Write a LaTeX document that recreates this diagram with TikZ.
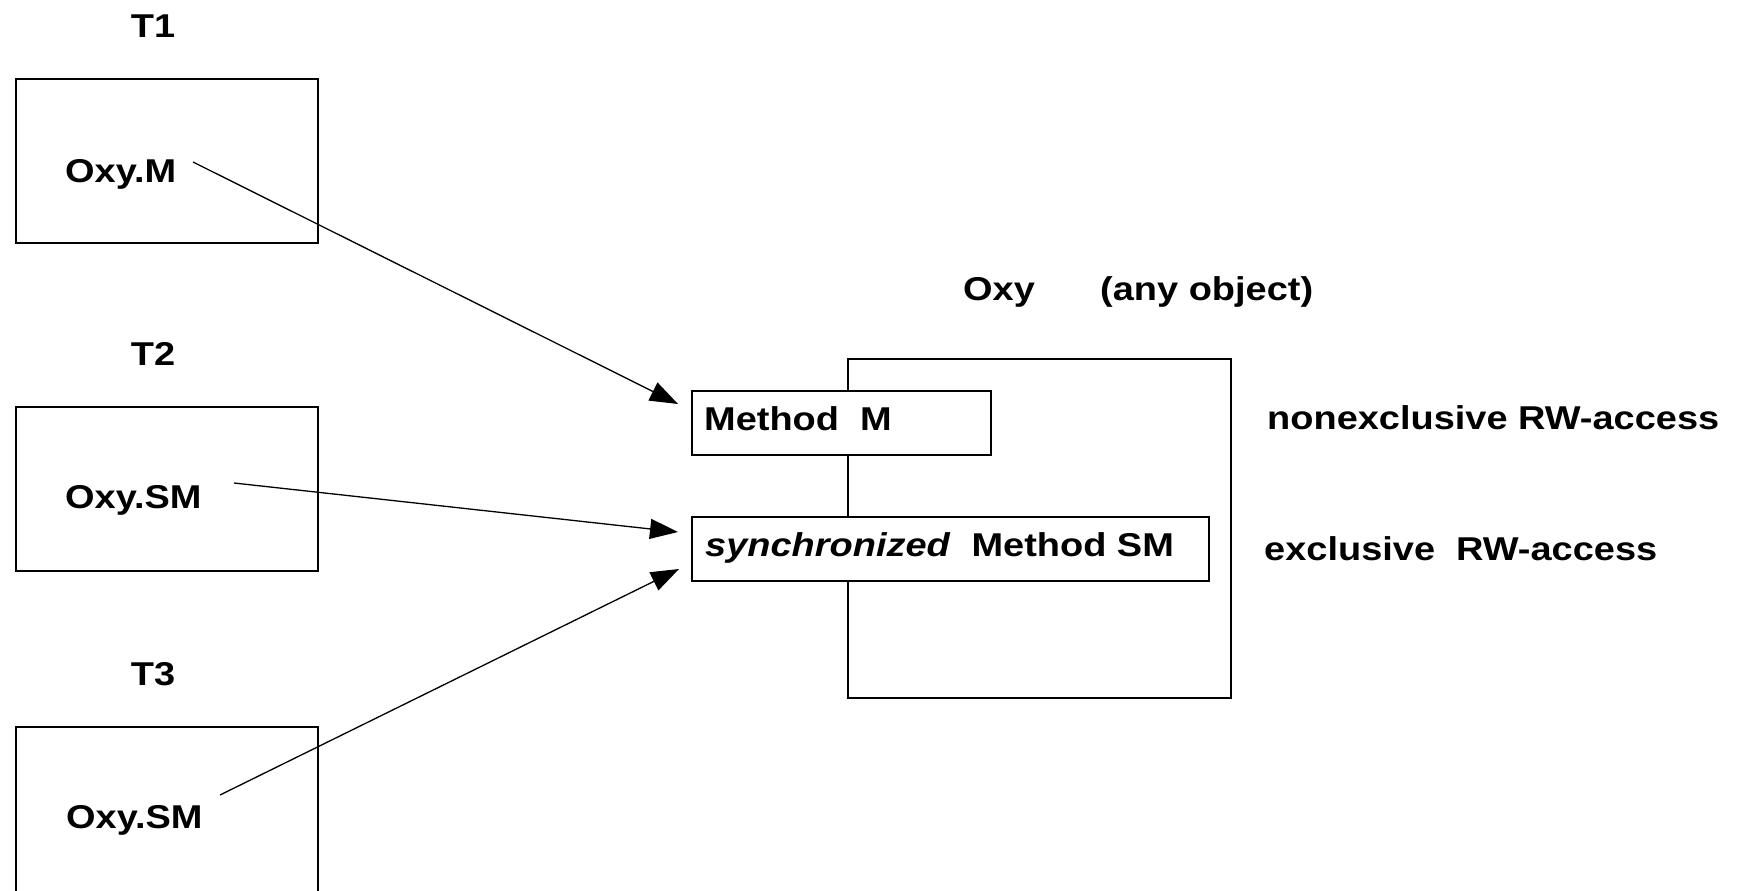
\documentclass[tikz,border=0pt]{standalone}
\usepackage{fontspec}
\setmainfont{Liberation Sans}[FakeStretch=1.15]
\usetikzlibrary{arrows.meta}
\tikzset{
  box/.style={draw=black, line width=1.6pt},
  mbox/.style={draw=black, fill=white, line width=1.6pt},
  lbl/.style={inner sep=0pt, anchor=base west, font=\fontsize{33}{40}\selectfont\bfseries},
  clbl/.style={inner sep=0pt, anchor=base, font=\fontsize{33}{40}\selectfont\bfseries},
  conn/.style={line width=1.3pt, -{Triangle[length=28pt,width=20pt]}}
}
\begin{document}
\begin{tikzpicture}[x=1pt,y=-1pt]
\useasboundingbox (0,0) rectangle (1740,891);
\clip (0,0) rectangle (1740,891);
% thread boxes
\draw[box] (16,79) rectangle (318,243);
\draw[box] (16,407) rectangle (318,571);
\draw[box] (16,727) rectangle (318,893);
\node[clbl] (t1) at (153,38) {T1};
\node[clbl] (t2) at (153,365) {T2};
\node[clbl] (t3) at (153,685) {T3};
\node[lbl] (c1) at (65,182) {Oxy.M};
\node[lbl] (c2) at (65,508) {Oxy.SM};
\node[lbl] (c3) at (66,828) {Oxy.SM};
% object
\node[lbl] (oxy) at (963,300) {Oxy};
\node[lbl] (any) at (1100,300) {(any object)};
\draw[box] (848,359) rectangle (1231,698);
\node[mbox, minimum width=299pt, minimum height=64pt, inner sep=0pt] (mm) at (841.5,423) {};
\node[mbox, minimum width=517pt, minimum height=64pt, inner sep=0pt] (ms) at (950.5,549) {};
\node[lbl] (mmt) at (704,430) {Method\ \ M};
\node[lbl] (mst) at (705,556) {\itshape synchronized\/\upshape\ \ Method SM};
\node[lbl] (ne) at (1267,429) {nonexclusive RW-access};
\node[lbl] (ex) at (1264,560) {exclusive\ \ RW-access};
% connectors
\coordinate (s1) at (193,162);
\coordinate (s2) at (234,483);
\coordinate (s3) at (220,795);
\coordinate (e1) at (678,404);
\coordinate (e2) at (678,532);
\coordinate (e3) at (679,569);
\draw[conn] (s1) -- (e1);
\draw[conn] (s2) -- (e2);
\draw[conn] (s3) -- (e3);
\end{tikzpicture}
\end{document}
